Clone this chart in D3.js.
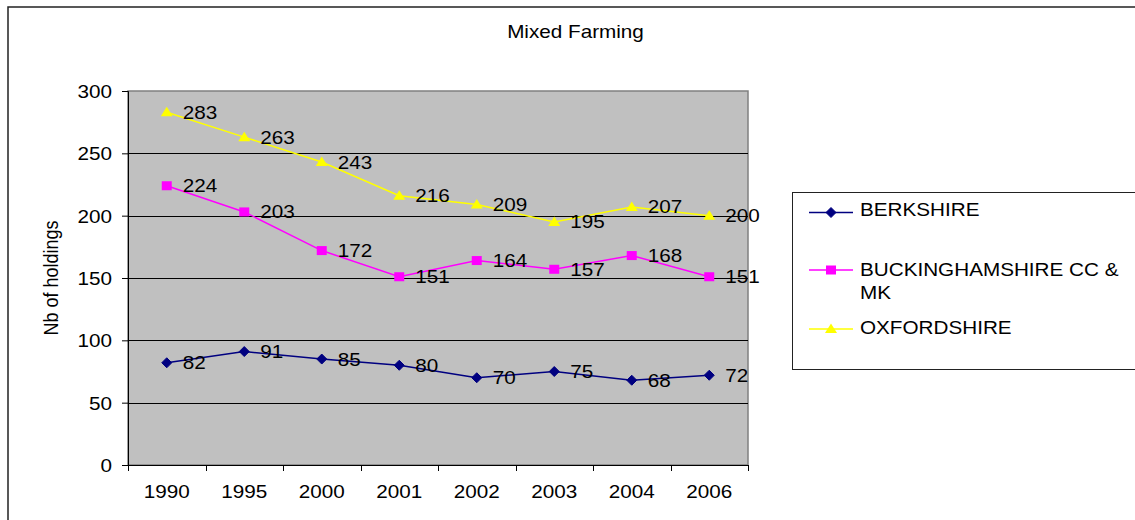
<!DOCTYPE html>
<html>
<head>
<meta charset="utf-8">
<script src="https://cdn.jsdelivr.net/npm/d3@7"></script>
<style>
  html, body { margin: 0; padding: 0; background: #fff; }
  svg text { font-family: "Liberation Sans", Arial, sans-serif; fill: #000; }
</style>
</head>
<body>
<svg id="chart" width="1135" height="520"></svg>
<script>
// Holdings by county, mixed farming
const years = ["1990", "1995", "2000", "2001", "2002", "2003", "2004", "2006"];
const berkshire = [82, 91, 85, 80, 70, 75, 68, 72];
const buckinghamshire = [224, 203, 172, 151, 164, 157, 168, 151];
const oxfordshire = [283, 263, 243, 216, 209, 195, 207, 200];
const yTicks = [0, 50, 100, 150, 200, 250, 300];

const series = [
  { name: "BERKSHIRE", lines: ["BERKSHIRE"], values: berkshire, color: "#000080", marker: "diamond" },
  { name: "BUCKINGHAMSHIRE CC & MK", lines: ["BUCKINGHAMSHIRE CC &", "MK"], values: buckinghamshire, color: "#FF00FF", marker: "square" },
  { name: "OXFORDSHIRE", lines: ["OXFORDSHIRE"], values: oxfordshire, color: "#FFFF00", marker: "triangle" }
];

const svg = d3.select("#chart");
const plot = { left: 128, right: 748, top: 91, bottom: 465 };
const SX = 1.15;      // horizontal text stretch
const FS = 18;

const x = d3.scaleBand().domain(years).range([plot.left, plot.right]).padding(0);
const y = d3.scaleLinear().domain([0, 300]).range([plot.bottom, plot.top]);

function stretchedText(g, tx, ty, str, anchor) {
  return g.append("text")
    .attr("transform", `translate(${tx},${ty}) scale(${SX},1)`)
    .attr("text-anchor", anchor || "start")
    .attr("font-size", FS)
    .text(str);
}

// outer frame
svg.append("rect").attr("x", 8).attr("y", 7).attr("width", 1200).attr("height", 600)
  .attr("fill", "#fff").attr("stroke", "#222").attr("stroke-width", 1.5);

// plot background
svg.append("rect")
  .attr("x", plot.left).attr("y", plot.top)
  .attr("width", plot.right - plot.left).attr("height", plot.bottom - plot.top)
  .attr("fill", "#C0C0C0").attr("stroke", "#808080").attr("stroke-width", 1.5);

// horizontal gridlines
svg.append("g").selectAll("line")
  .data(yTicks.filter(d => d > 0 && d < 300))
  .join("line")
  .attr("x1", plot.left).attr("x2", plot.right)
  .attr("y1", d => Math.round(y(d)) + 0.5).attr("y2", d => Math.round(y(d)) + 0.5)
  .attr("stroke", "#000").attr("stroke-width", 1);

// y axis
const yAxisG = svg.append("g").attr("transform", `translate(${plot.left},0)`)
  .call(d3.axisLeft(y).tickValues(yTicks).tickSize(6).tickPadding(10).tickFormat(d3.format("d")));
yAxisG.select(".domain").attr("stroke", "#000");
yAxisG.selectAll(".tick line").attr("stroke", "#000");
yAxisG.selectAll(".tick text").remove();
yAxisG.selectAll(".tick").each(function(d) {
  stretchedText(d3.select(this), -16, 6.5, String(d), "end");
});

// x axis with ticks on category boundaries
const xAxisG = svg.append("g").attr("transform", `translate(0,${plot.bottom})`);
xAxisG.append("line").attr("x1", plot.left).attr("x2", plot.right)
  .attr("y1", 0.5).attr("y2", 0.5).attr("stroke", "#000");
const bounds = years.map(d => x(d)).concat([x(years[years.length - 1]) + x.bandwidth()]);
xAxisG.selectAll("line.tk").data(bounds).join("line").attr("class", "tk")
  .attr("x1", d => Math.round(d) + 0.5).attr("x2", d => Math.round(d) + 0.5)
  .attr("y1", 0).attr("y2", 6).attr("stroke", "#000");
years.forEach(yr => {
  stretchedText(xAxisG, x(yr) + x.bandwidth() / 2, 33, yr, "middle");
});

// title
stretchedText(svg, 575.5, 38, "Mixed Farming", "middle");

// y axis label
svg.append("text")
  .attr("transform", `translate(58,${(plot.top + plot.bottom) / 2}) scale(${SX},1) rotate(-90)`)
  .attr("text-anchor", "middle")
  .attr("font-size", FS)
  .text("Nb of holdings");

const cx = d => x(d) + x.bandwidth() / 2;

function drawMarker(g, type, px, py, color) {
  if (type === "diamond") {
    g.append("path").attr("d", `M${px},${py - 5}L${px + 5},${py}L${px},${py + 5}L${px - 5},${py}Z`)
      .attr("fill", color).attr("stroke", color);
  } else if (type === "square") {
    g.append("rect").attr("x", px - 5).attr("y", py - 4.5).attr("width", 10).attr("height", 9)
      .attr("fill", color);
  } else {
    g.append("path").attr("d", `M${px},${py - 5.5}L${px + 6},${py + 4}L${px - 6},${py + 4}Z`)
      .attr("fill", color);
  }
}

const line = d3.line().x(d => cx(d.year)).y(d => y(d.value));

series.forEach(s => {
  const pts = years.map((yr, i) => ({ year: yr, value: s.values[i] }));
  const g = svg.append("g");
  g.append("path").datum(pts).attr("d", line)
    .attr("fill", "none").attr("stroke", s.color).attr("stroke-width", 1.5);
  pts.forEach(p => drawMarker(g, s.marker, cx(p.year), y(p.value), s.color));
  pts.forEach(p => stretchedText(g, cx(p.year) + 16, y(p.value) + 6.5, String(p.value), "start"));
});

// legend
const leg = svg.append("g");
leg.append("rect").attr("x", 792.5).attr("y", 192.5).attr("width", 400).attr("height", 177)
  .attr("fill", "#fff").attr("stroke", "#222").attr("stroke-width", 1);
const legendRows = [
  { lineY: 212.5, baselines: [216] },
  { lineY: 270, baselines: [276, 298.5] },
  { lineY: 329, baselines: [334] }
];
series.forEach((s, i) => {
  const r = legendRows[i];
  leg.append("line").attr("x1", 809).attr("x2", 853).attr("y1", r.lineY).attr("y2", r.lineY)
    .attr("stroke", s.color).attr("stroke-width", 1.5);
  drawMarker(leg, s.marker, 831, r.lineY, s.color);
  s.lines.forEach((t, j) => stretchedText(leg, 860, r.baselines[j], t, "start"));
});
</script>
</body>
</html>
